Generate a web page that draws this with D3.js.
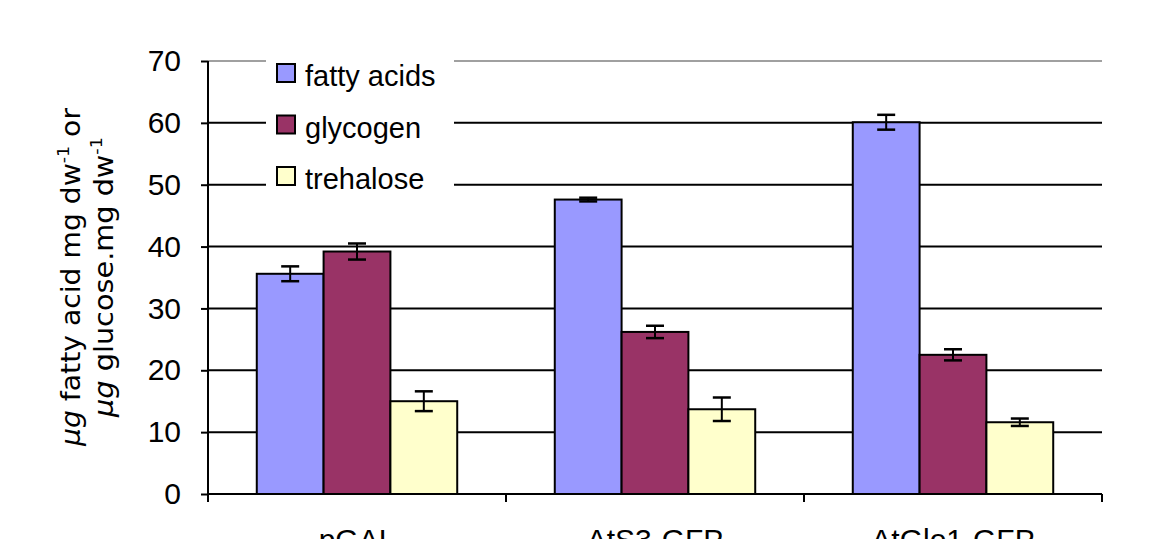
<!DOCTYPE html>
<html>
<head>
<meta charset="utf-8">
<script src="https://cdn.jsdelivr.net/npm/d3@7"></script>
<style>
  html, body { margin: 0; padding: 0; background: #fff; }
  svg { display: block; }
</style>
</head>
<body>
<svg id="chart" width="1150" height="539"></svg>
<script>
// Strains and measured storage compounds (mean ± error)
const categories = ["pGAL", "AtS3-GFP", "AtGlo1-GFP"];
const seriesNames = ["fatty acids", "glycogen", "trehalose"];
const fattyAcids = [35.6, 47.6, 60.1];
const fattyAcidsErr = [1.2, 0.3, 1.2];
const glycogen = [39.2, 26.2, 22.5];
const glycogenErr = [1.3, 1.0, 0.9];
const trehalose = [15.0, 13.7, 11.6];
const trehaloseErr = [1.6, 1.9, 0.6];
const yTicks = [0, 10, 20, 30, 40, 50, 60, 70];
const seriesColors = ["#9999FF", "#993366", "#FFFFCC"];

const values = [fattyAcids, glycogen, trehalose];
const errors = [fattyAcidsErr, glycogenErr, trehaloseErr];

const svg = d3.select("#chart");
const plotLeft = 208, plotRight = 1102, plotTop = 61, plotBottom = 494;

const x = d3.scaleBand().domain(categories).range([plotLeft, plotRight]).paddingInner(0).paddingOuter(0);
const xs = d3.scaleBand().domain(seriesNames).range([0, x.bandwidth()]).paddingInner(0).paddingOuter(0.73);
const y = d3.scaleLinear().domain([0, 70]).range([plotBottom, plotTop]);

const font = "Arial, 'Liberation Sans', sans-serif";

// horizontal gridlines
svg.append("g").selectAll("line").data(yTicks.filter(t => t > 0)).join("line")
  .attr("x1", plotLeft).attr("x2", plotRight)
  .attr("y1", d => y(d)).attr("y2", d => y(d))
  .attr("stroke", d => d === 70 ? "#a0a0a0" : "#000")
  .attr("stroke-width", 2);

// y axis
const yAxis = svg.append("g").attr("transform", `translate(${plotLeft},0)`)
  .call(d3.axisLeft(y).tickValues(yTicks).tickSize(7).tickPadding(20).tickFormat(d3.format("d")));
yAxis.select(".domain").attr("stroke", "#000").attr("stroke-width", 2).attr("d", `M0,${plotTop}V${plotBottom}`);
yAxis.selectAll(".tick line").attr("stroke", "#000").attr("stroke-width", 2);
yAxis.selectAll(".tick text").attr("font-family", font).attr("font-size", 30).attr("fill", "#000");

// x axis
const xAxis = svg.append("g").attr("transform", `translate(0,${plotBottom})`);
xAxis.append("line").attr("x1", plotLeft).attr("x2", plotRight).attr("y1", 0).attr("y2", 0)
  .attr("stroke", "#000").attr("stroke-width", 2);
const boundaries = categories.map(c => x(c)).concat([x(categories[categories.length - 1]) + x.bandwidth()]);
xAxis.selectAll("line.tk").data(boundaries).join("line").attr("class", "tk")
  .attr("x1", d => d).attr("x2", d => d).attr("y1", 0).attr("y2", 8)
  .attr("stroke", "#000").attr("stroke-width", 2);
xAxis.selectAll("text").data(categories).join("text")
  .attr("x", d => x(d) + x.bandwidth() / 2).attr("y", 56)
  .attr("text-anchor", "middle").attr("font-family", font).attr("font-size", 30)
  .text(d => d);

// bars
const groups = svg.append("g").selectAll("g").data(categories).join("g")
  .attr("transform", d => `translate(${x(d)},0)`);
seriesNames.forEach((s, si) => {
  groups.append("rect")
    .attr("x", xs(s)).attr("width", xs.bandwidth())
    .attr("y", (d, ci) => y(values[si][ci]))
    .attr("height", (d, ci) => y(0) - y(values[si][ci]))
    .attr("fill", seriesColors[si]).attr("stroke", "#000").attr("stroke-width", 2);
});

// error bars
seriesNames.forEach((s, si) => {
  const cx = xs(s) + xs.bandwidth() / 2;
  groups.each(function (d, ci) {
    const g = d3.select(this);
    const v = values[si][ci], e = errors[si][ci];
    g.append("line").attr("x1", cx).attr("x2", cx).attr("y1", y(v - e)).attr("y2", y(v + e))
      .attr("stroke", "#000").attr("stroke-width", 2);
    [v - e, v + e].forEach(t => {
      g.append("line").attr("x1", cx - 9).attr("x2", cx + 9).attr("y1", y(t)).attr("y2", y(t))
        .attr("stroke", "#000").attr("stroke-width", 2.5);
    });
  });
});

// legend
const legend = svg.append("g");
legend.append("rect").attr("x", 266).attr("y", 52).attr("width", 188).attr("height", 144).attr("fill", "#fff");
seriesNames.forEach((s, i) => {
  const row = legend.append("g").attr("transform", `translate(277,${64 + i * 51.5})`);
  row.append("rect").attr("width", 18).attr("height", 18)
    .attr("fill", seriesColors[i]).attr("stroke", "#000").attr("stroke-width", 2);
  row.append("text").attr("x", 28).attr("y", 22)
    .attr("font-family", font).attr("font-size", 29).text(s);
});

// y axis title
const labelFont = "'Comic Sans MS', 'DejaVu Sans', sans-serif";
const yl = svg.append("g").attr("transform", "translate(0,277) rotate(-90)");
const l1 = yl.append("text").attr("x", 0).attr("y", 80).attr("text-anchor", "middle")
  .attr("font-family", labelFont).attr("font-size", 26)
  .attr("textLength", 338).attr("lengthAdjust", "spacingAndGlyphs");
l1.append("tspan").attr("font-style", "italic").text("µg");
l1.append("tspan").text(" fatty acid mg dw");
l1.append("tspan").attr("font-size", 16).attr("dy", -11).text("-1");
l1.append("tspan").attr("dy", 11).text(" or");
const l2 = yl.append("text").attr("x", 0).attr("y", 113).attr("text-anchor", "middle")
  .attr("font-family", labelFont).attr("font-size", 26)
  .attr("textLength", 280).attr("lengthAdjust", "spacingAndGlyphs");
l2.append("tspan").attr("font-style", "italic").text("µg");
l2.append("tspan").text(" glucose.mg dw");
l2.append("tspan").attr("font-size", 16).attr("dy", -11).text("-1");
</script>
</body>
</html>
